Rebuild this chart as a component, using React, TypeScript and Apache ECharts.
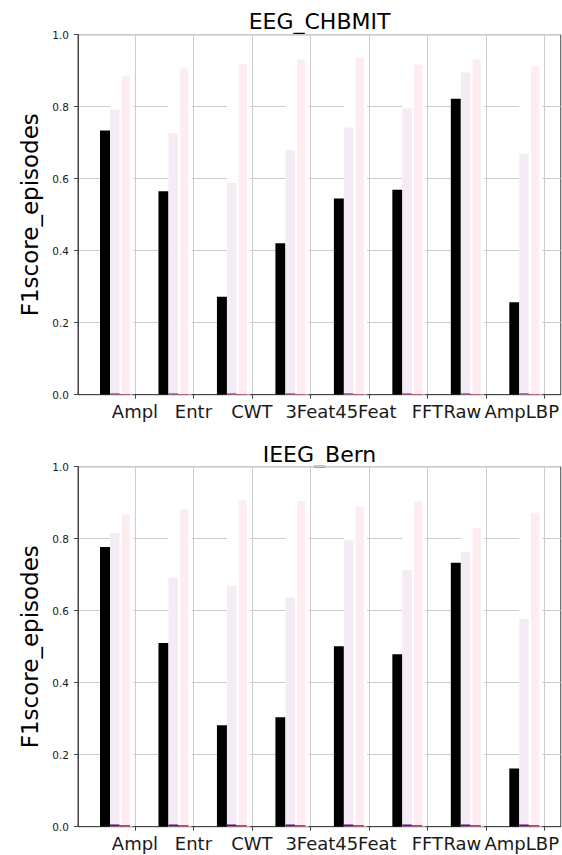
import React, { useEffect, useRef } from "react";
import * as echarts from "echarts";

const categories = ["Ampl", "Entr", "CWT", "3Feat", "45Feat", "FFT", "Raw", "AmpLBP"];
const titles = ["EEG_CHBMIT", "IEEG_Bern"];
const yAxisName = "F1score_episodes";

// EEG_CHBMIT
const chbmitBlack = [0.734, 0.565, 0.272, 0.421, 0.545, 0.569, 0.822, 0.257];
const chbmitLavender = [0.792, 0.726, 0.588, 0.679, 0.742, 0.796, 0.895, 0.670];
const chbmitPink = [0.887, 0.906, 0.919, 0.931, 0.936, 0.917, 0.931, 0.912];
const chbmitPurple = [0.003, 0.003, 0.003, 0.003, 0.003, 0.003, 0.003, 0.003];
const chbmitCrimson = [0.002, 0.002, 0.002, 0.002, 0.002, 0.002, 0.002, 0.002];

// IEEG_Bern
const bernBlack = [0.777, 0.510, 0.282, 0.304, 0.501, 0.479, 0.733, 0.162];
const bernLavender = [0.816, 0.692, 0.669, 0.637, 0.796, 0.713, 0.763, 0.577];
const bernPink = [0.868, 0.882, 0.907, 0.905, 0.889, 0.903, 0.830, 0.872];
const bernPurple = [0.006, 0.006, 0.006, 0.006, 0.006, 0.006, 0.006, 0.006];
const bernCrimson = [0.004, 0.004, 0.004, 0.004, 0.004, 0.004, 0.004, 0.004];

const FONT = "DejaVu Sans";
const X_MIN = -57 / 58.5;
const X_MAX = 426 / 58.5;
// label shifts (in category units) as seen in the reference
const labelShift = [0, 0, 0, 0, -0.05, 0, -0.4, -0.385];

const tickValues = categories.map((_, i) => i);
const labelValues = categories.map((_, i) => i + labelShift[i]);

function labelFor(v: number): string {
  let best = 0;
  let bd = Infinity;
  labelValues.forEach((lv, i) => {
    const d = Math.abs(lv - v);
    if (d < bd) {
      bd = d;
      best = i;
    }
  });
  return categories[best];
}

function rectSeries(
  grid: number,
  data: number[],
  x0: number,
  x1: number,
  color: string,
  z: number
) {
  return {
    type: "custom",
    xAxisIndex: grid,
    yAxisIndex: grid,
    z,
    clip: true,
    data: data.map((v, i) => [i, v]),
    encode: { x: 0, y: 1 },
    renderItem: (_params: any, api: any) => {
      const i = api.value(0);
      const v = api.value(1);
      const p0 = api.coord([i + x0, v]);
      const p1 = api.coord([i + x1, 0]);
      return {
        type: "rect",
        shape: { x: p0[0], y: p0[1], width: p1[0] - p0[0], height: p1[1] - p0[1] },
        style: { fill: color },
      };
    },
  };
}

function seriesFor(grid: number, black: number[], lav: number[], pink: number[], purple: number[], crimson: number[]) {
  return [
    rectSeries(grid, pink, -0.427, -0.034, "#ffffff", 2),
    rectSeries(grid, black, -0.598, -0.427, "#000000", 3),
    rectSeries(grid, lav, -0.427, -0.265, "#f5ebf5", 3),
    rectSeries(grid, pink, -0.227, -0.085, "#fdedf0", 3),
    rectSeries(grid, purple, -0.427, -0.265, "#5c0e6b", 4),
    rectSeries(grid, crimson, -0.265, -0.085, "#8e0f3c", 4),
  ];
}

const gridTops = [34.7, 466.7];

export default function App() {
  const ref = useRef<HTMLDivElement>(null);
  useEffect(() => {
    document.body.style.margin = "0";
    if (!ref.current) return;
    const chart = echarts.init(ref.current, undefined, { renderer: "svg" });
    const axisColor = "#444444";
    const xAxes = [0, 1].map((g) => ({
      type: "value",
      gridIndex: g,
      min: X_MIN,
      max: X_MAX,
      axisLine: { show: true, onZero: false, lineStyle: { color: axisColor, width: 1 } },
      axisTick: { show: true, customValues: tickValues, length: 4, lineStyle: { color: axisColor, width: 1 } },
      axisLabel: {
        show: true,
        customValues: labelValues,
        formatter: (v: number) => labelFor(v),
        fontSize: 18,
        fontFamily: FONT,
        color: "#1a1a1a",
        margin: 8,
      },
      splitLine: { show: true, lineStyle: { color: "#cccccc", width: 1 } },
    }));
    const yAxes = [0, 1].map((g) => ({
      type: "value",
      gridIndex: g,
      min: 0,
      max: 1,
      interval: 0.2,
      name: yAxisName,
      nameLocation: "middle",
      nameGap: 37,
      nameRotate: 90,
      nameTextStyle: { fontSize: 23, fontFamily: FONT, color: "#000000" },
      axisLine: { show: true, onZero: false, lineStyle: { color: axisColor, width: 1 } },
      axisTick: { show: true, length: 4, lineStyle: { color: axisColor, width: 1 } },
      axisLabel: {
        fontSize: 10.5,
        fontFamily: FONT,
        color: "#1a1a1a",
        margin: 9,
        formatter: (v: number) => v.toFixed(1),
      },
      splitLine: { show: true, lineStyle: { color: "#cccccc", width: 1 } },
    }));
    chart.setOption({
      animation: false,
      backgroundColor: "#ffffff",
      grid: gridTops.map((t) => ({
        left: 78,
        top: t,
        width: 483,
        height: 360,
        show: true,
        borderColor: axisColor,
        borderWidth: 1,
        backgroundColor: "transparent",
        containLabel: false,
      })),
      xAxis: xAxes,
      yAxis: yAxes,
      graphic: titles.map((t, i) => ({
        type: "text",
        x: 319.5,
        y: i === 0 ? 21 : 454,
        style: {
          text: t,
          fontSize: 22,
          fontFamily: FONT,
          fill: "#000000",
          textAlign: "center",
          textVerticalAlign: "middle",
        },
      })),
      series: [
        ...seriesFor(0, chbmitBlack, chbmitLavender, chbmitPink, chbmitPurple, chbmitCrimson),
        ...seriesFor(1, bernBlack, bernLavender, bernPink, bernPurple, bernCrimson),
      ],
    });
    return () => chart.dispose();
  }, []);
  return <div ref={ref} style={{ width: 562, height: 855 }} />;
}
